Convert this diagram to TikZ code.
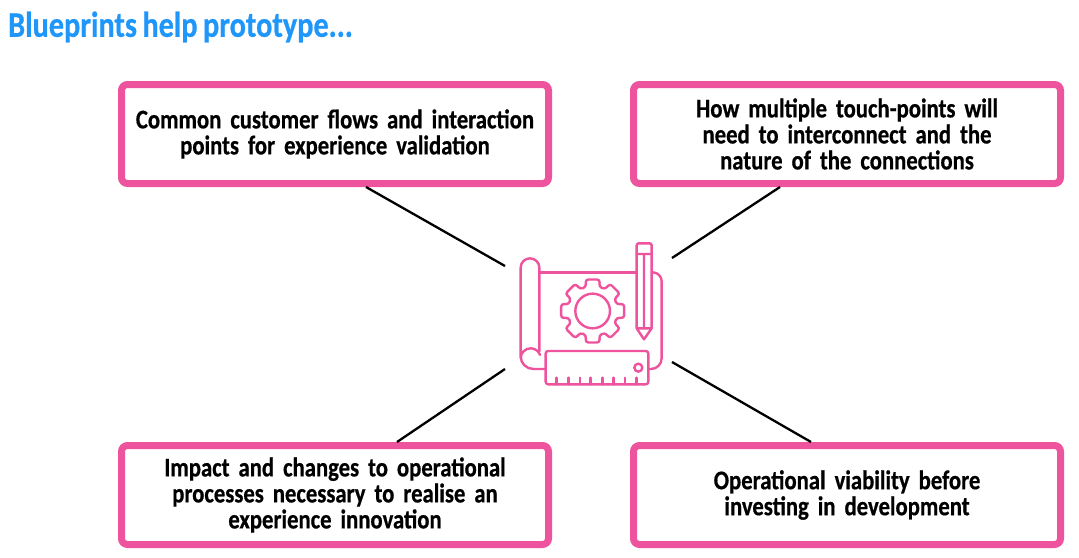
\documentclass[tikz,border=0pt]{standalone}
\usepackage{fontspec}
\setmainfont{Carlito}[BoldFeatures={FakeStretch=0.84, FakeBold=0.6, WordSpace=0.8}]
\usetikzlibrary{calc, positioning}
\definecolor{bluetitle}{HTML}{1E96FA}
\definecolor{pinkbox}{HTML}{EE539D}
\begin{document}
\begin{tikzpicture}[x=1pt, y=-1pt]
	\tikzset{
		title/.style = {font={\fontsize{36}{36}\selectfont\bfseries}, text=bluetitle, anchor=west, inner sep=0pt},
		infobox/.style = {draw=pinkbox, fill=white, line width=7pt, rounded corners=6pt, minimum width=427pt, minimum height=99pt, text width=420pt, align=center, inner sep=0pt, font={\fontsize{27}{26}\selectfont\bfseries}},
		spoke/.style = {line width=2.3pt, black},
		iconline/.style = {draw=pinkbox, line width=2.4pt, line join=round, line cap=round},
	}
	\useasboundingbox (0,0) rectangle (1079,557);

	\node[title] (heading) at (8,27) {Blueprints help prototype...};

	\node[infobox] (flows) at (335,134) {Common customer flows and interaction\\points for experience validation};
	\node[infobox, right=78pt of flows] (touch) {How multiple touch-points will\\need to interconnect and the\\nature of the connections};
	\node[infobox, below=255pt of flows] (impact) {Impact and changes to operational\\processes necessary to realise an\\experience innovation};
	\node[infobox, below=255pt of touch] (viability) {Operational viability before\\investing in development};

	\coordinate (hub-nw) at (505,266);
	\coordinate (hub-ne) at (672,258);
	\coordinate (hub-sw) at (505,369);
	\coordinate (hub-se) at (672,362);

	\draw[spoke] ([xshift=31pt]flows.south) -- (hub-nw);
	\draw[spoke] ([xshift=-67pt]touch.south) -- (hub-ne);
	\draw[spoke] ([xshift=62pt]impact.north) -- (hub-sw);
	\draw[spoke] ([xshift=-36pt]viability.north) -- (hub-se);

	% icon, in zoomed units
	\begin{scope}[shift={(500,230)}, x=0.3333pt, y=-0.3333pt]
		% sheet and roll
		\draw[iconline] (118,127) -- (408,127);
		\draw[iconline] (458,127) arc[start angle=-90, end angle=0, radius=27] -- (485,385) arc[start angle=0, end angle=90, radius=32] -- (445,417);
		\draw[iconline] (135,417) -- (100,417) arc[start angle=90, end angle=180, radius=38] -- (62,113) arc[start angle=-180, end angle=0, radius=28] -- (118,365);
		\draw[iconline] (62,385) arc[start angle=180, end angle=270, radius=30] arc[start angle=-90, end angle=-20, radius=30];
		% ruler
		\draw[iconline, fill=white, rounded corners=2.5pt] (137,363) rectangle (445,463);
		\foreach \x in {170,205,240,272,307,340,375,410}
			{
				\draw[iconline] (\x,463) -- (\x,443);
			}
		\draw[iconline] (415,413) circle[radius=12];
		% pencil
		\draw[iconline, rounded corners=2pt] (410,72) -- (410,40) -- (455,40) -- (455,72);
		\draw[iconline] (410,72) -- (455,72) (410,72) -- (410,295) -- (432,328) -- (455,295) -- (455,72) (432,72) -- (432,295) (410,295) -- (455,295);
		% gear
		\draw[iconline] (278,243) circle[radius=52];
		\draw[iconline, rounded corners=3pt]
			\foreach \a [count=\i] in {0,45,...,315}
				{
					\ifnum\i=1 ($(278,243)+(\a-13:97)$) \else -- ($(278,243)+(\a-13:97)$) \fi
					-- ($(278,243)+(\a+13:97)$) -- ($(278,243)+(\a+15:75)$) -- ($(278,243)+(\a+30:75)$)
				} -- cycle;
	\end{scope}
\end{tikzpicture}
\end{document}
